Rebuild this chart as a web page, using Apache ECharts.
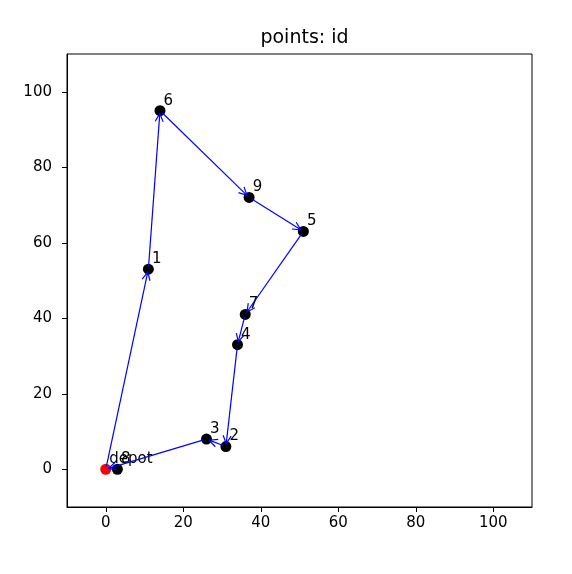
<!DOCTYPE html>
<html><head><meta charset="utf-8">
<script src="https://cdn.jsdelivr.net/npm/echarts@6/dist/echarts.min.js"></script>
<style>html,body{margin:0;padding:0;background:#fff}#c{width:572px;height:574px}</style>
</head><body><div id="c"></div>
<script>
// point ids and coordinates
const pointIds = ['1','2','3','4','5','6','7','8','9'];
const pointX   = [11, 31, 26, 34, 51, 14, 36, 3, 37];
const pointY   = [53, 6, 8, 33, 63, 95, 41, 0, 72];
const depotX = 0, depotY = 0;
// visiting order (ids), starting and ending at the depot
const route = ['depot','1','6','9','5','7','4','2','3','depot'];
const xTicks = [0, 20, 40, 60, 80, 100];
const yTicks = [0, 20, 40, 60, 80, 100];

function pos(id){
  if (id === 'depot') return [depotX, depotY];
  const i = pointIds.indexOf(id);
  return [pointX[i], pointY[i]];
}
const segs = [];
for (let i = 0; i < route.length - 1; i++) {
  const a = pos(route[i]), b = pos(route[i+1]);
  segs.push([a[0], a[1], b[0], b[1]]);
}
const pts = pointIds.map((id, i) => ({name: id, value: [pointX[i], pointY[i]]}));

const labelStyle = {
  show: true, formatter: p => p.name, position: [9, 3],
  align: 'left', verticalAlign: 'bottom',
  fontFamily: 'DejaVu Sans', fontSize: 15, color: '#000'
};

const chart = echarts.init(document.getElementById('c'), null, {renderer: 'canvas'});
chart.setOption({
  animation: false,
  title: {
    text: 'points: id', left: 299.5, top: 24, textAlign: 'center',
    textStyle: {fontFamily: 'DejaVu Sans', fontSize: 19, fontWeight: 'normal', color: '#000'}
  },
  grid: {left: 67, right: 40, top: 54, bottom: 67, show: true, borderColor: '#000', borderWidth: 1},
  xAxis: {
    type: 'value', min: -10, max: 110,
    axisLine: {show: true, onZero: false, lineStyle: {color: '#000', width: 1}},
    axisTick: {show: true, length: 5, lineStyle: {color: '#000'}, customValues: xTicks},
    axisLabel: {customValues: xTicks, margin: 9, fontFamily: 'DejaVu Sans', fontSize: 15, color: '#000'},
    splitLine: {show: false}
  },
  yAxis: {
    type: 'value', min: -10, max: 110,
    axisLine: {show: true, onZero: false, lineStyle: {color: '#000', width: 1}},
    axisTick: {show: true, length: 5, lineStyle: {color: '#000'}, customValues: yTicks},
    axisLabel: {customValues: yTicks, margin: 15, fontFamily: 'DejaVu Sans', fontSize: 15, color: '#000'},
    splitLine: {show: false}
  },
  series: [
    {
      type: 'scatter', data: pts, symbolSize: 11, z: 2,
      itemStyle: {color: '#000', opacity: 1}, label: labelStyle
    },
    {
      type: 'scatter', data: [{name: 'depot', value: [depotX, depotY]}], symbolSize: 11, z: 2,
      itemStyle: {color: '#ff0000', opacity: 1}, label: labelStyle
    },
    {
      type: 'custom', z: 3, data: segs,
      encode: {x: [0, 2], y: [1, 3]},
      renderItem: function (params, api) {
        const p1 = api.coord([api.value(0), api.value(1)]);
        const p2 = api.coord([api.value(2), api.value(3)]);
        const dx = p2[0] - p1[0], dy = p2[1] - p1[1];
        const L = Math.hypot(dx, dy), ux = dx / L, uy = dy / L;
        const s = 3;
        const a = [p1[0] + ux * s, p1[1] + uy * s];
        const b = [p2[0] - ux * s, p2[1] - uy * s];
        const hl = 8, hw = 4;
        const h1 = [b[0] - ux * hl - uy * hw, b[1] - uy * hl + ux * hw];
        const h2 = [b[0] - ux * hl + uy * hw, b[1] - uy * hl - ux * hw];
        return {type: 'group', children: [
          {type: 'line', shape: {x1: a[0], y1: a[1], x2: b[0], y2: b[1]}, style: {stroke: '#0000ff', lineWidth: 1.2}},
          {type: 'polyline', shape: {points: [h1, b, h2]}, style: {stroke: '#0000ff', lineWidth: 1.2, fill: null}}
        ]};
      }
    }
  ]
});
</script></body></html>
